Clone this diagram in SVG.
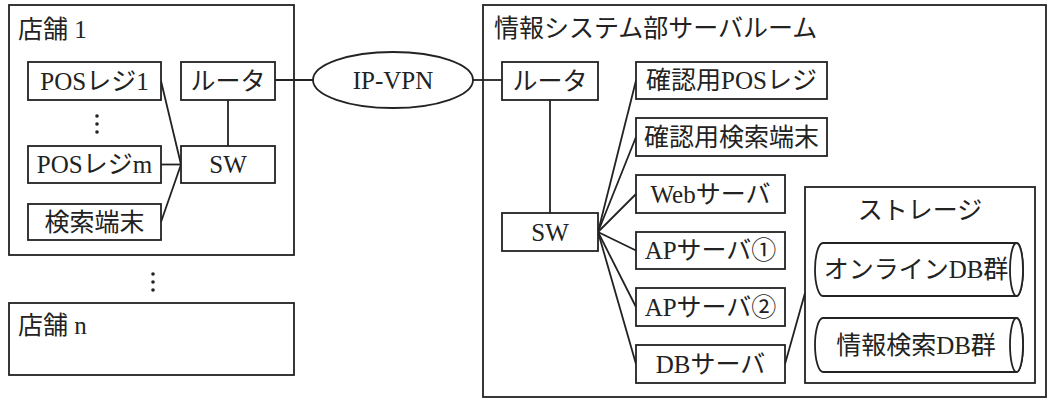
<svg xmlns="http://www.w3.org/2000/svg" width="1055" height="401" viewBox="0 0 1055 401">
<style>
.box{fill:#fff;stroke:#222;stroke-width:1.8}
.area{fill:none;stroke:#222;stroke-width:1.8}
.ln{stroke:#222;stroke-width:1.8;fill:none}
text{font-family:"Liberation Serif","Noto Sans CJK JP",serif;font-size:25px;fill:#222}
.c{text-anchor:middle}
.dot{fill:#222}
</style>
<rect width="1055" height="401" fill="#fff"/>
<g id="store1">
<rect class="area" x="9" y="5" width="285" height="250"/>
<text x="18" y="38">店舗 1</text>
</g>
<g id="storen">
<rect class="area" x="9" y="303" width="285" height="72"/>
<text x="18" y="334">店舗 n</text>
</g>
<g id="dots">
<circle class="dot" cx="97" cy="116" r="1.8"/><circle class="dot" cx="97" cy="124" r="1.8"/><circle class="dot" cx="97" cy="132" r="1.8"/>
<circle class="dot" cx="153" cy="274" r="1.8"/><circle class="dot" cx="153" cy="282" r="1.8"/><circle class="dot" cx="153" cy="290" r="1.8"/>
</g>
<g id="serverroom">
<rect class="area" x="483" y="5" width="563" height="392"/>
<text x="494" y="37">情報システム部サーバルーム</text>
</g>
<g id="connectors">
<line class="ln" x1="161" y1="81" x2="181" y2="164.5"/>
<line class="ln" x1="161" y1="164.5" x2="181" y2="164.5"/>
<line class="ln" x1="161" y1="222" x2="181" y2="164.5"/>
<line class="ln" x1="228" y1="100" x2="228" y2="146"/>
<line class="ln" x1="275" y1="80" x2="313" y2="80"/>
<line class="ln" x1="473" y1="80" x2="502" y2="80"/>
<line class="ln" x1="550" y1="100" x2="550" y2="213"/>
<line class="ln" x1="598" y1="232" x2="636" y2="80.5"/>
<line class="ln" x1="598" y1="232" x2="636" y2="137"/>
<line class="ln" x1="598" y1="232" x2="636" y2="194"/>
<line class="ln" x1="598" y1="232" x2="636" y2="250.5"/>
<line class="ln" x1="598" y1="232" x2="636" y2="307"/>
<line class="ln" x1="598" y1="232" x2="636" y2="364"/>
<line class="ln" x1="785" y1="364" x2="805" y2="293"/>
</g>
<g id="pos1"><rect class="box" x="28" y="62" width="133" height="38"/><text class="c" x="94.5" y="90">POSレジ1</text></g>
<g id="posm"><rect class="box" x="28" y="146" width="133" height="37"/><text class="c" x="94.5" y="173">POSレジm</text></g>
<g id="search1"><rect class="box" x="28" y="204" width="133" height="36"/><text class="c" x="94.5" y="231">検索端末</text></g>
<g id="router1"><rect class="box" x="181" y="62" width="94" height="38"/><text class="c" x="228" y="90">ルータ</text></g>
<g id="sw1"><rect class="box" x="181" y="146" width="94" height="37"/><text class="c" x="228" y="173">SW</text></g>
<g id="ipvpn"><ellipse class="box" cx="393" cy="80" rx="80" ry="28"/><text class="c" x="393" y="89">IP-VPN</text></g>
<g id="router2"><rect class="box" x="502" y="62" width="96" height="38"/><text class="c" x="550" y="90">ルータ</text></g>
<g id="sw2"><rect class="box" x="502" y="213" width="96" height="38"/><text class="c" x="550" y="241">SW</text></g>
<g id="chkpos"><rect class="box" x="636" y="62" width="191" height="37"/><text class="c" x="731.5" y="89">確認用POSレジ</text></g>
<g id="chksearch"><rect class="box" x="636" y="118" width="191" height="38"/><text class="c" x="731.5" y="146">確認用検索端末</text></g>
<g id="web"><rect class="box" x="636" y="175" width="149" height="38"/><text class="c" x="710.5" y="203">Webサーバ</text></g>
<g id="ap1"><rect class="box" x="636" y="232" width="149" height="37"/><text class="c" x="710.5" y="259">APサーバ①</text></g>
<g id="ap2"><rect class="box" x="636" y="288" width="149" height="38"/><text class="c" x="710.5" y="316">APサーバ②</text></g>
<g id="dbserver"><rect class="box" x="636" y="345" width="149" height="38"/><text class="c" x="710.5" y="373">DBサーバ</text></g>
<g id="storage">
<rect class="box" x="805" y="187" width="230" height="196"/>
<text class="c" x="920" y="219">ストレージ</text>
</g>
<g id="onlinedb">
<path class="box" d="M823 243 L1016.5 243 A6.5 26.5 0 0 1 1016.5 296 L823 296 A8 26.5 0 0 1 823 243 Z"/>
<ellipse class="box" cx="1016.5" cy="269.5" rx="6.5" ry="26.5"/>
<text class="c" x="916" y="278">オンラインDB群</text>
</g>
<g id="infodb">
<path class="box" d="M823 318 L1016.5 318 A6.5 27 0 0 1 1016.5 372 L823 372 A8 27 0 0 1 823 318 Z"/>
<ellipse class="box" cx="1016.5" cy="345" rx="6.5" ry="27"/>
<text class="c" x="916" y="354">情報検索DB群</text>
</g>
</svg>
